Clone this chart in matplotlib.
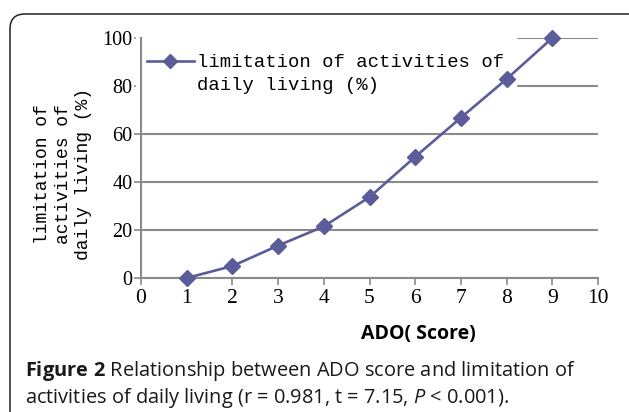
import numpy as np
import matplotlib.pyplot as plt
from matplotlib.lines import Line2D
from matplotlib.patches import FancyBboxPatch

# values
ado_score = [1, 2, 3, 4, 5, 6, 7, 8, 9]
limitation_pct = [0, 5, 13.5, 21.5, 33.7, 50.5, 66.8, 82.9, 100]
x_ticks = list(range(0, 11))
y_ticks = [0, 20, 40, 60, 80, 100]

LINE_COL = "#5c5c9a"
GRID_COL = "#8a8a8a"
SERIF = ["Liberation Serif", "DejaVu Serif"]
MONO = ["Liberation Mono", "DejaVu Sans Mono"]
SANS = ["Open Sans", "DejaVu Sans"]

plt.rcParams["mathtext.fontset"] = "custom"
plt.rcParams["mathtext.rm"] = "Open Sans"
plt.rcParams["mathtext.it"] = "Open Sans:italic"
plt.rcParams["mathtext.bf"] = "Open Sans:bold"

W, H = 629, 412
fig = plt.figure(figsize=(W / 100, H / 100), dpi=100)

# rounded frame, running off the right and bottom edges
frame = FancyBboxPatch((0.10, -1.0), 7.5, 3.98 + 1.0,
                       boxstyle="round,pad=0,rounding_size=0.15",
                       transform=fig.dpi_scale_trans, fill=False,
                       edgecolor="#222222", lw=1.1, clip_on=False)
fig.patches.append(frame)

ax = fig.add_axes([141 / W, 1 - 278 / H, (598 - 141) / W, (278 - 38) / H])
ax.plot(ado_score, limitation_pct, "-D", color=LINE_COL, lw=1.9, ms=8,
        clip_on=False, zorder=3)

ax.set_xlim(0, 10)
ax.set_ylim(0, 100)
ax.set_xticks(x_ticks)
ax.set_yticks(y_ticks)
ax.grid(axis="y", color=GRID_COL, lw=1.5)
ax.set_axisbelow(True)
for s in ["top", "right"]:
    ax.spines[s].set_visible(False)
for s in ["left", "bottom"]:
    ax.spines[s].set_color(GRID_COL)
    ax.spines[s].set_linewidth(1.5)
ax.tick_params(axis="both", color=GRID_COL, width=1.2, length=5, direction="out")
ax.tick_params(axis="y", pad=1, labelsize=14.5)
ax.tick_params(axis="x", pad=3, labelsize=15.5)
for lab in ax.get_xticklabels() + ax.get_yticklabels():
    lab.set_family(SERIF)

ax.set_xlabel("ADO( Score)", family=SANS, fontweight="bold", fontsize=14)
ax.xaxis.set_label_coords(0.606, -0.19)

# legend: marker on the first text line, second line without handle;
# a tiny blank title pushes the rows down a little
handles = [Line2D([], [], color=LINE_COL, lw=1.9, marker="D", ms=7),
           Line2D([], [], color="none")]
labels = ["limitation of activities of", "daily living (%)"]
leg = ax.legend(handles, labels, loc="upper left",
                bbox_to_anchor=(136 / W, 1 - 33 / H), bbox_transform=fig.transFigure,
                prop={"family": MONO, "size": 13.6}, handlelength=2.45,
                handletextpad=0.2, borderpad=0.6, borderaxespad=0.0,
                labelspacing=0.3, title=" ", title_fontsize=2,
                frameon=True, fancybox=False)
leg.get_frame().set_edgecolor("white")
leg.get_frame().set_facecolor("white")
leg.get_frame().set_alpha(1.0)
leg.set_zorder(2.2)

fig.text(63 / W, 1 - 174 / H, "limitation of\nactivities of\ndaily living (%)",
         rotation=90, ha="center", va="center", family=MONO, fontsize=13,
         linespacing=1.25, multialignment="center")

fig.text(25 / W, 1 - 376 / H,
         r"$\mathbf{Figure\ 2}$ Relationship between ADO score and limitation of",
         family=SANS, fontsize=14.4, va="baseline", color="#1a1a1a")
fig.text(25 / W, 1 - 403 / H,
         r"activities of daily living (r = 0.981, t = 7.15, $\mathit{P}$ < 0.001).",
         family=SANS, fontsize=14.4, va="baseline", color="#1a1a1a")

fig.savefig("out.png", dpi=100)
